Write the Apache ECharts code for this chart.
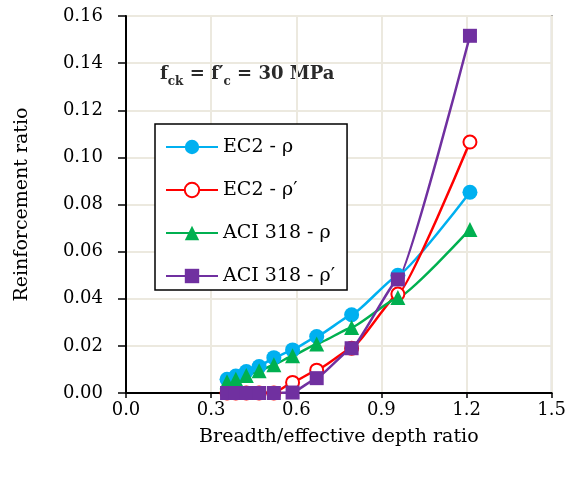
<!DOCTYPE html>
<html>
<head>
<meta charset="utf-8">
<script src="https://cdn.jsdelivr.net/npm/echarts@6/dist/echarts.min.js"></script>
<style>
  html, body { margin: 0; padding: 0; background: #fff; }
  #chart { width: 569px; height: 477px; }
</style>
</head>
<body>
<div id="chart"></div>
<script>
// breadth / effective depth ratios (same for all four series)
const ratios = [0.356, 0.387, 0.424, 0.469, 0.521, 0.587, 0.672, 0.795, 0.958, 1.212]

const ec2Rho = [0.0058, 0.0072, 0.0091, 0.0112, 0.0150, 0.0183, 0.0240, 0.0332, 0.0500, 0.0852]
const ec2RhoP = [0, 0, 0, 0, 0, 0.0045, 0.0097, 0.0190, 0.0420, 0.1065]
const aciRho = [0.0048, 0.0058, 0.0074, 0.0094, 0.0120, 0.0158, 0.0208, 0.0278, 0.0405, 0.0694]
const aciRhoP = [0, 0, 0, 0, 0, 0.0002, 0.0063, 0.0190, 0.0482, 0.1516]

const seriesNames = ['EC2 - ρ', 'EC2 - ρ′', 'ACI 318 - ρ', 'ACI 318 - ρ′']

const font = 'DejaVu Serif'

const pairs = (ys) => ratios.map((x, i) => [x, ys[i]])

const makeSeries = (name, ys, color, symbol, size, hollow) => ({
  name,
  type: 'line',
  data: pairs(ys),
  smooth: 0.12,
  smoothMonotone: 'x',
  symbol,
  symbolSize: size,
  showAllSymbol: true,
  lineStyle: { color, width: 2.5 },
  itemStyle: hollow
    ? { color: '#fff', borderColor: color, borderWidth: 2 }
    : { color, borderWidth: 0 },
})

const chart = echarts.init(document.getElementById('chart'))

chart.setOption({
  animation: false,
  grid: {
    left: 126, top: 16, right: 14, bottom: 84,
    show: true, borderColor: '#000', borderWidth: 1.5,
  },
  xAxis: {
    type: 'value',
    min: 0, max: 1.5, interval: 0.3,
    name: 'Breadth/effective depth ratio',
    nameLocation: 'middle',
    nameGap: 35,
    nameTextStyle: { fontFamily: font, fontSize: 19, color: '#000' },
    axisLine: { lineStyle: { color: '#000', width: 2 } },
    axisTick: { length: 5, lineStyle: { color: '#000', width: 1.5 } },
    axisLabel: {
      fontFamily: font, fontSize: 18, color: '#000', margin: 8,
      formatter: (v) => v.toFixed(1),
    },
    splitLine: { lineStyle: { color: '#ECE9DF', width: 2 } },
  },
  yAxis: {
    type: 'value',
    min: 0, max: 0.16, interval: 0.02,
    name: 'Reinforcement ratio',
    nameLocation: 'middle',
    nameGap: 94,
    nameTextStyle: { fontFamily: font, fontSize: 19, color: '#000' },
    axisLine: { show: true, lineStyle: { color: '#000', width: 2 } },
    axisTick: { show: true, length: 8, lineStyle: { color: '#000', width: 1.5 } },
    axisLabel: {
      fontFamily: font, fontSize: 18, color: '#000', margin: 23,
      formatter: (v) => v.toFixed(2),
    },
    splitLine: { lineStyle: { color: '#ECE9DF', width: 2 } },
  },
  legend: {
    orient: 'vertical',
    left: 155, top: 124,
    padding: [11, 12, 2, 10],
    itemGap: 19,
    itemWidth: 52,
    itemHeight: 18,
    backgroundColor: '#fff',
    borderColor: '#000',
    borderWidth: 1.5,
    borderRadius: 0,
    textStyle: { fontFamily: font, fontSize: 19, color: '#000', lineHeight: 24 },
    data: seriesNames,
  },
  graphic: [
    {
      type: 'text',
      left: 160, top: 65,
      style: {
        text: '{a|f}{b|ck}{a| = f′}{b|c}{a| = 30 MPa}',
        rich: {
          a: { fontFamily: font, fontSize: 18, fontWeight: 'bold', fill: '#2a2a2a', lineHeight: 27, verticalAlign: 'middle' },
          b: { fontFamily: font, fontSize: 12, fontWeight: 'bold', fill: '#2a2a2a', lineHeight: 14, verticalAlign: 'bottom' },
        },
      },
    },
  ],
  series: [
    makeSeries(seriesNames[0], ec2Rho, '#00B0F0', 'circle', 15, false),
    makeSeries(seriesNames[1], ec2RhoP, '#FF0000', 'circle', 13, true),
    makeSeries(seriesNames[2], aciRho, '#00B050', 'triangle', 15, false),
    makeSeries(seriesNames[3], aciRhoP, '#7030A0', 'rect', 14, false),
  ],
})
</script>
</body>
</html>
